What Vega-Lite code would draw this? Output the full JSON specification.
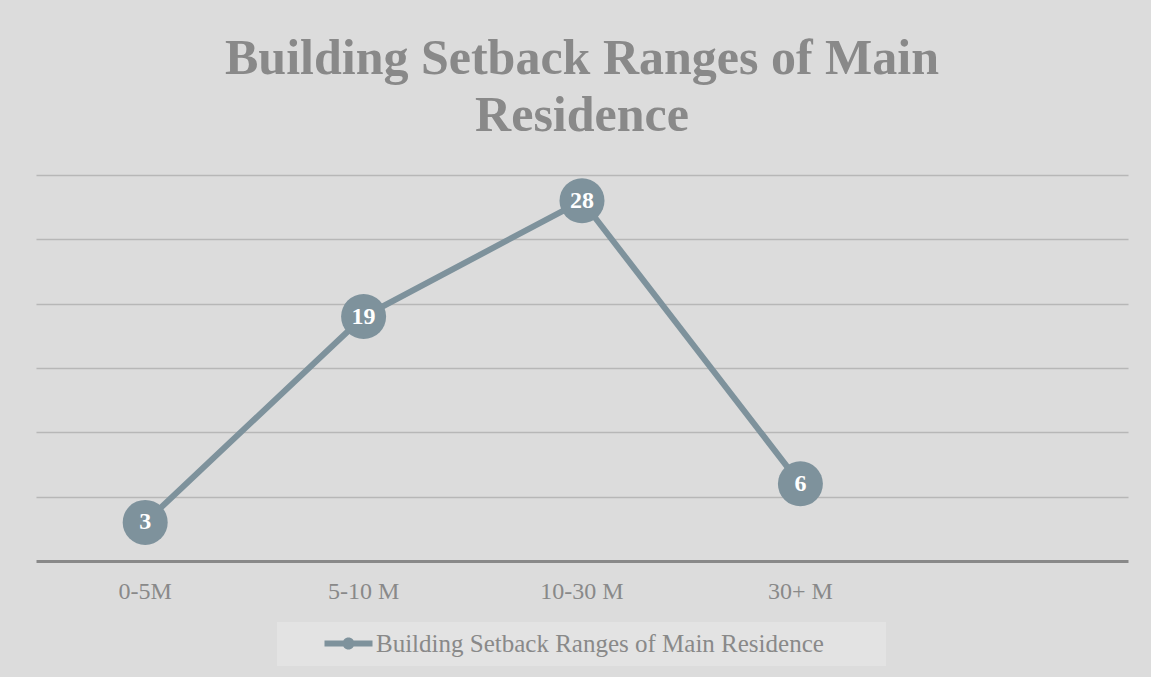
{
  "$schema": "https://vega.github.io/schema/vega-lite/v6.json",
  "width": 1092,
  "height": 386,
  "autosize": {"type": "none"},
  "padding": {"left": 36, "top": 175, "right": 23, "bottom": 116},
  "background": "#dcdcdc",
  "title": {
    "text": ["Building Setback Ranges of Main", "Residence"],
    "font": "Liberation Serif",
    "fontSize": 50,
    "fontWeight": "bold",
    "color": "#898989",
    "lineHeight": 57,
    "anchor": "middle",
    "frame": "group",
    "offset": 34
  },
  "data": {
    "values": [
      {"range": "0-5M", "count": 3, "series": "Building Setback Ranges of Main Residence"},
      {"range": "5-10 M", "count": 19, "series": "Building Setback Ranges of Main Residence"},
      {"range": "10-30 M", "count": 28, "series": "Building Setback Ranges of Main Residence"},
      {"range": "30+ M", "count": 6, "series": "Building Setback Ranges of Main Residence"}
    ]
  },
  "encoding": {
    "x": {
      "field": "range",
      "type": "nominal",
      "sort": null,
      "scale": {"type": "band", "domain": ["0-5M", "5-10 M", "10-30 M", "30+ M", " "], "paddingInner": 0, "paddingOuter": 0},
      "axis": {
        "title": null,
        "labelAngle": 0,
        "labelFont": "Liberation Serif",
        "labelFontSize": 24,
        "labelColor": "#898989",
        "labelPadding": 18,
        "ticks": false,
        "tickSize": 0,
        "domainColor": "#898989",
        "domainWidth": 3,
        "grid": false
      }
    },
    "y": {
      "field": "count",
      "type": "quantitative",
      "scale": {"domain": [0, 30], "nice": false},
      "axis": {
        "title": null,
        "labels": false,
        "ticks": false,
        "domain": false,
        "grid": true,
        "values": [5, 10, 15, 20, 25, 30],
        "gridColor": "#000000",
        "gridOpacity": 0.17,
        "gridWidth": 1.5
      }
    }
  },
  "layer": [
    {
      "mark": {"type": "line", "strokeWidth": 6},
      "encoding": {
        "color": {
          "field": "series",
          "type": "nominal",
          "scale": {"range": ["#7e929c"]},
          "legend": {
            "title": "\u00a0",
            "titleOrient": "right",
            "titlePadding": 53,
            "titleFont": "Liberation Serif",
            "titleFontSize": 25,
            "orient": "none",
            "legendX": 241,
            "legendY": 447,
            "fillColor": "#e3e3e3",
            "padding": 9,
            "symbolType": "M-2,-0.25H2V0.25H-2Z M0.5,0A0.5,0.5,0,1,1,-0.5,0A0.5,0.5,0,1,1,0.5,0Z",
            "symbolSize": 576,
            "symbolFillColor": "#7e929c",
            "symbolStrokeColor": "#7e929c",
            "symbolStrokeWidth": 0,
            "symbolOffset": 50,
            "labelOffset": 15,
            "labelFont": "Liberation Serif",
            "labelFontSize": 25,
            "labelColor": "#898989",
            "labelLimit": 1000
          }
        }
      }
    },
    {
      "mark": {"type": "point", "filled": true, "opacity": 1, "size": 2025, "color": "#7e929c"}
    },
    {
      "mark": {"type": "text", "color": "#ffffff", "font": "Liberation Serif", "fontSize": 24, "fontWeight": "bold", "baseline": "middle", "align": "center"},
      "encoding": {"text": {"field": "count", "type": "quantitative"}}
    }
  ],
  "config": {
    "view": {"stroke": null}
  }
}
